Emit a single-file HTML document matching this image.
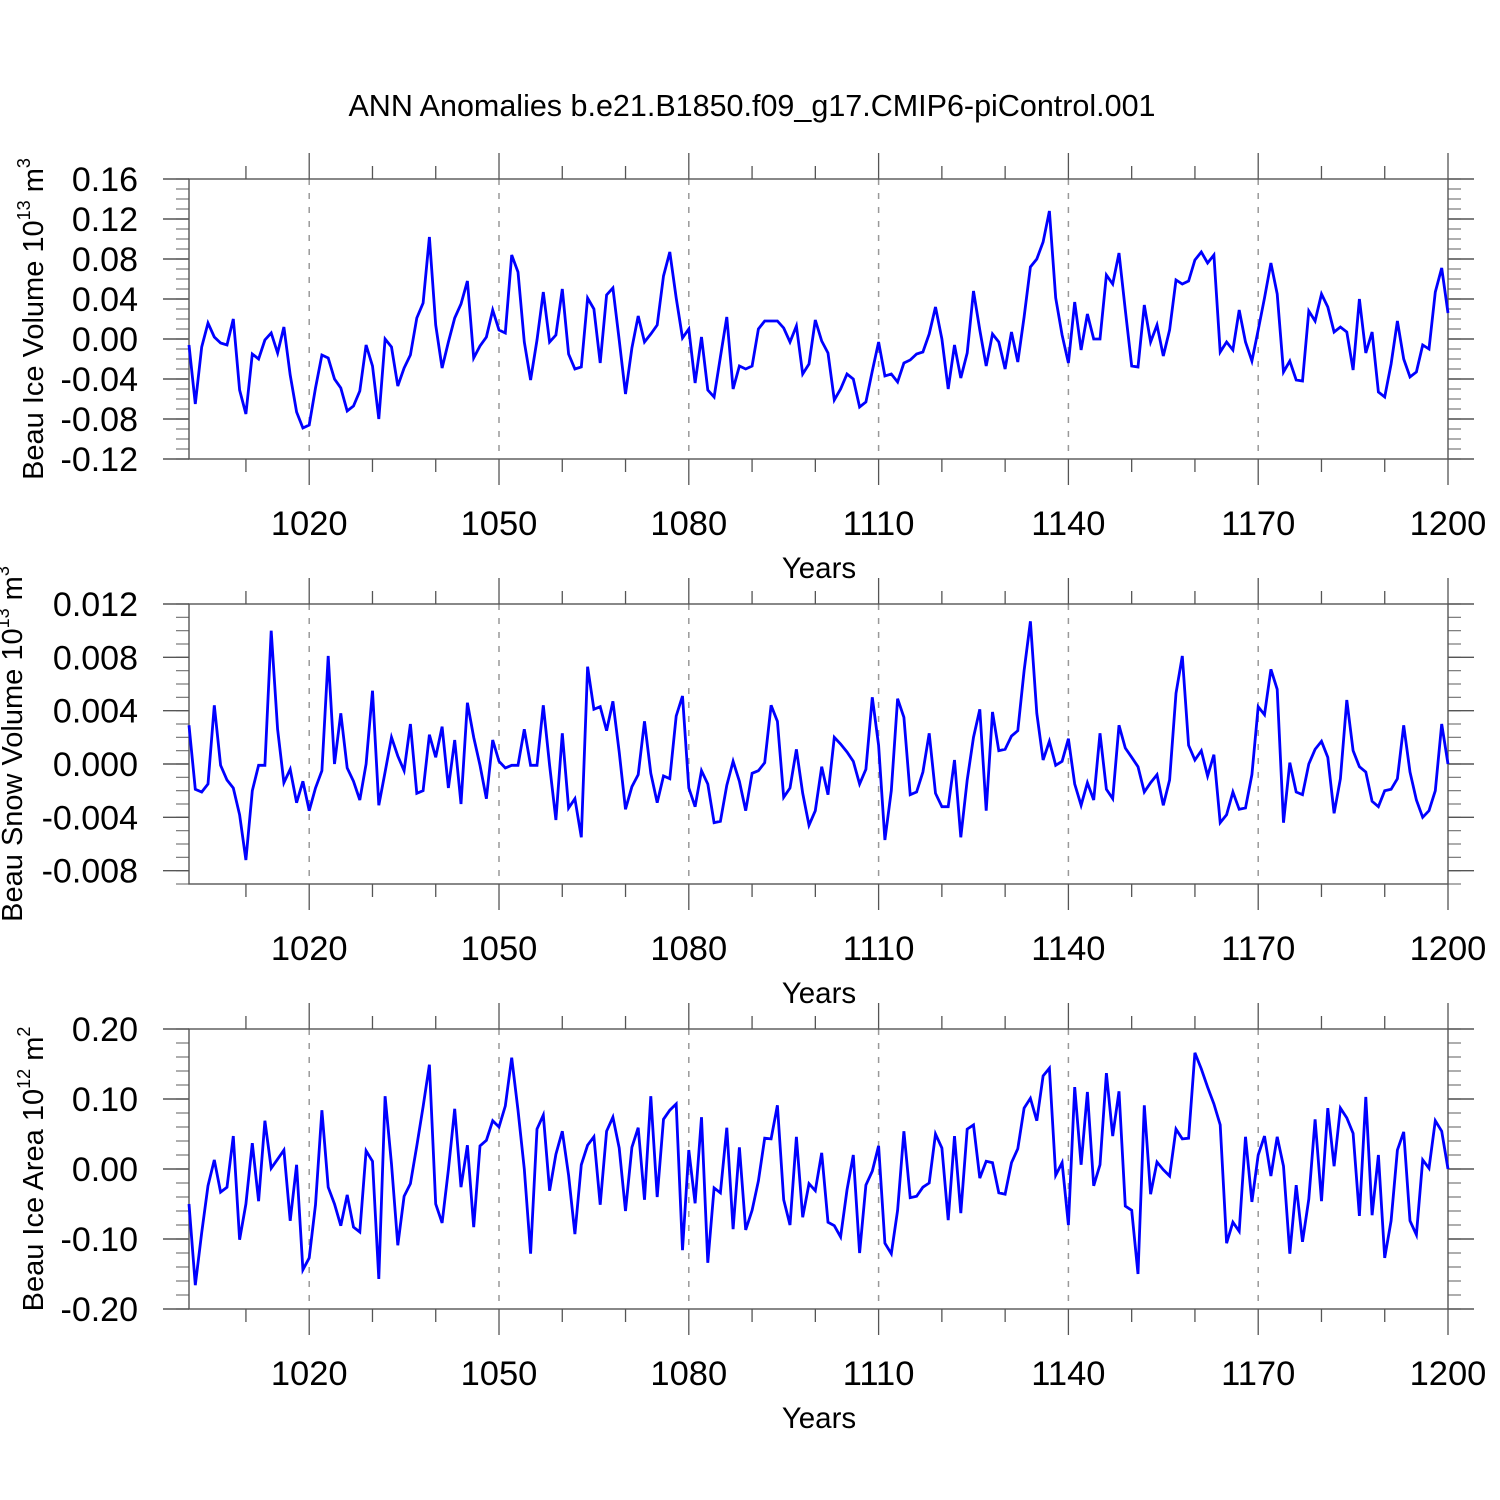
<!DOCTYPE html>
<html><head><meta charset="utf-8"><style>
html,body{margin:0;padding:0;background:#fff;}
svg{display:block;font-family:"Liberation Sans",sans-serif;}
</style></head><body>
<svg id="chart" width="1500" height="1500" viewBox="0 0 1500 1500">
<text x="752" y="116" text-anchor="middle" font-size="30.5">ANN Anomalies b.e21.B1850.f09_g17.CMIP6-piControl.001</text>
</svg>
<script>
const startYear = 1001;
const xTicks = [1020, 1050, 1080, 1110, 1140, 1170, 1200];
const iceVolume = [-0.006,-0.065,-0.008,0.016,0.002,-0.004,-0.006,0.020,-0.051,-0.075,
-0.015,-0.020,-0.001,0.006,-0.014,0.012,-0.036,-0.073,-0.089,-0.086,
-0.049,-0.016,-0.019,-0.040,-0.049,-0.072,-0.067,-0.052,-0.006,-0.027,
-0.080,0.000,-0.008,-0.047,-0.029,-0.016,0.021,0.036,0.102,0.014,
-0.029,-0.003,0.021,0.035,0.058,-0.019,-0.007,0.002,0.029,0.009,
0.006,0.084,0.067,-0.003,-0.041,-0.001,0.047,-0.003,0.004,0.050,
-0.015,-0.030,-0.028,0.041,0.030,-0.024,0.044,0.051,-0.001,-0.055,
-0.009,0.023,-0.003,0.005,0.014,0.063,0.087,0.041,0.001,0.010,
-0.044,0.002,-0.051,-0.058,-0.018,0.022,-0.050,-0.027,-0.030,-0.027,
0.010,0.018,0.018,0.018,0.011,-0.003,0.013,-0.035,-0.025,0.019,
-0.002,-0.014,-0.061,-0.050,-0.035,-0.040,-0.068,-0.063,-0.032,-0.003,
-0.037,-0.035,-0.043,-0.024,-0.021,-0.015,-0.013,0.005,0.032,0.000,
-0.050,-0.006,-0.039,-0.014,0.048,0.009,-0.027,0.005,-0.003,-0.030,
0.007,-0.023,0.022,0.072,0.080,0.097,0.128,0.041,0.004,-0.024,
0.037,-0.011,0.025,0.000,0.000,0.064,0.055,0.086,0.029,-0.027,
-0.028,0.034,-0.003,0.014,-0.017,0.009,0.059,0.055,0.058,0.079,
0.087,0.076,0.084,-0.013,-0.003,-0.011,0.029,-0.003,-0.022,0.009,
0.041,0.076,0.045,-0.033,-0.022,-0.041,-0.042,0.028,0.018,0.045,
0.032,0.007,0.012,0.007,-0.031,0.040,-0.014,0.007,-0.053,-0.058,
-0.025,0.018,-0.020,-0.038,-0.033,-0.006,-0.010,0.047,0.071,0.026];
const snowVolume = [0.0029,-0.0019,-0.0021,-0.0015,0.0044,-0.0001,-0.0012,-0.0018,-0.0038,-0.0072,
-0.0020,-0.0001,-0.0001,0.0100,0.0026,-0.0014,-0.0004,-0.0029,-0.0013,-0.0035,
-0.0018,-0.0005,0.0081,0.0000,0.0038,-0.0003,-0.0013,-0.0027,0.0000,0.0055,
-0.0031,-0.0006,0.0020,0.0006,-0.0005,0.0030,-0.0022,-0.0020,0.0022,0.0005,
0.0028,-0.0018,0.0018,-0.0030,0.0046,0.0020,-0.0001,-0.0026,0.0018,0.0002,
-0.0003,-0.0001,-0.0001,0.0026,-0.0001,-0.0001,0.0044,-0.0001,-0.0042,0.0023,
-0.0033,-0.0026,-0.0055,0.0073,0.0041,0.0043,0.0025,0.0047,0.0009,-0.0034,
-0.0017,-0.0008,0.0032,-0.0007,-0.0029,-0.0009,-0.0011,0.0036,0.0051,-0.0018,
-0.0032,-0.0005,-0.0015,-0.0044,-0.0043,-0.0016,0.0002,-0.0013,-0.0035,-0.0007,
-0.0005,0.0001,0.0044,0.0032,-0.0025,-0.0018,0.0011,-0.0022,-0.0046,-0.0035,
-0.0002,-0.0023,0.0020,0.0015,0.0009,0.0002,-0.0015,-0.0004,0.0050,0.0014,
-0.0057,-0.0020,0.0049,0.0035,-0.0023,-0.0021,-0.0006,0.0023,-0.0022,-0.0032,
-0.0032,0.0003,-0.0055,-0.0012,0.0020,0.0041,-0.0035,0.0039,0.0010,0.0011,
0.0021,0.0025,0.0070,0.0107,0.0038,0.0003,0.0017,-0.0001,0.0002,0.0019,
-0.0015,-0.0031,-0.0014,-0.0027,0.0023,-0.0019,-0.0026,0.0029,0.0012,0.0005,
-0.0002,-0.0021,-0.0014,-0.0008,-0.0031,-0.0012,0.0053,0.0081,0.0014,0.0003,
0.0010,-0.0009,0.0007,-0.0044,-0.0038,-0.0021,-0.0034,-0.0033,-0.0008,0.0043,
0.0037,0.0071,0.0056,-0.0044,0.0001,-0.0021,-0.0023,0.0000,0.0011,0.0017,
0.0005,-0.0037,-0.0011,0.0048,0.0010,-0.0002,-0.0006,-0.0028,-0.0032,-0.0020,
-0.0019,-0.0011,0.0029,-0.0006,-0.0027,-0.0040,-0.0035,-0.0020,0.0030,0.0000];
const iceArea = [-0.050,-0.166,-0.091,-0.024,0.013,-0.033,-0.026,0.047,-0.101,-0.050,
0.037,-0.046,0.069,0.001,0.014,0.027,-0.074,0.006,-0.144,-0.127,
-0.051,0.084,-0.026,-0.050,-0.081,-0.037,-0.083,-0.090,0.026,0.011,
-0.157,0.104,0.007,-0.109,-0.039,-0.021,0.033,0.089,0.149,-0.050,
-0.077,-0.001,0.086,-0.026,0.034,-0.083,0.033,0.041,0.069,0.060,
0.090,0.159,0.084,0.000,-0.121,0.057,0.077,-0.031,0.021,0.054,
-0.009,-0.093,0.006,0.034,0.046,-0.051,0.054,0.074,0.030,-0.060,
0.031,0.059,-0.044,0.104,-0.040,0.071,0.084,0.093,-0.116,0.027,
-0.049,0.074,-0.134,-0.027,-0.034,0.059,-0.086,0.031,-0.087,-0.059,
-0.017,0.044,0.043,0.091,-0.044,-0.080,0.046,-0.069,-0.021,-0.031,
0.023,-0.076,-0.081,-0.097,-0.030,0.020,-0.120,-0.023,-0.003,0.033,
-0.106,-0.121,-0.059,0.054,-0.041,-0.039,-0.026,-0.020,0.050,0.030,
-0.073,0.047,-0.063,0.057,0.063,-0.013,0.011,0.009,-0.034,-0.036,
0.009,0.029,0.087,0.101,0.069,0.133,0.144,-0.009,0.009,-0.080,
0.117,0.006,0.110,-0.024,0.006,0.137,0.047,0.111,-0.053,-0.059,
-0.150,0.091,-0.036,0.010,-0.001,-0.010,0.057,0.043,0.044,0.166,
0.143,0.117,0.093,0.063,-0.106,-0.076,-0.089,0.046,-0.047,0.020,
0.047,-0.010,0.046,0.004,-0.121,-0.023,-0.104,-0.043,0.071,-0.046,
0.087,0.004,0.087,0.073,0.051,-0.067,0.103,-0.066,0.020,-0.127,
-0.074,0.027,0.053,-0.074,-0.094,0.013,0.001,0.069,0.054,0.000];
const panel1Ticks = ["0.16","0.12","0.08","0.04","0.00","-0.04","-0.08","-0.12"];
const panel2Ticks = ["0.012","0.008","0.004","0.000","-0.004","-0.008"];
const panel3Ticks = ["0.20","0.10","0.00","-0.10","-0.20"];

const NS = "http://www.w3.org/2000/svg";
const svg = document.getElementById('chart');
const X0 = 189, X1 = 1448;
function xScale(yr){ return X0 + (yr - startYear) / (1200 - startYear) * (X1 - X0); }
function mk(tag, attrs, parent){
  const e = document.createElementNS(NS, tag);
  for (const k in attrs) e.setAttribute(k, attrs[k]);
  (parent || svg).appendChild(e);
  return e;
}
function panel(opt){
  const g = mk('g', {});
  
  
  const top = opt.top, bot = opt.top + 280;
  const yScale = v => top + (opt.ymax - v) / (opt.ymax - opt.ymin) * 280;
  xTicks.forEach(t => {
    if (t === 1200) return;
    const l = mk('line', {x1: xScale(t), x2: xScale(t), y1: top, y2: bot, stroke: '#999', 'stroke-width': 1.5, 'stroke-dasharray': '6,8'}, g);
    
    
  });
  for (let t = 1010; t <= 1200; t += 10) {
    const major = xTicks.includes(t);
    const len = major ? 26 : 13;
    const x = xScale(t);
    mk('line', {x1: x, x2: x, y1: top, y2: top - len, stroke: '#555', 'stroke-width': 1.3}, g);
    mk('line', {x1: x, x2: x, y1: bot, y2: bot + len, stroke: '#555', 'stroke-width': 1.3}, g);
  }
  xTicks.forEach(t => {
    const tx = mk('text', {x: xScale(t), y: bot + 76, 'text-anchor': 'middle', 'font-size': 34.5}, g);
    tx.textContent = String(t);
    
    
  });
  const xt = mk('text', {x: 819, y: bot + 119, 'text-anchor': 'middle', 'font-size': 29.5}, g);
  xt.textContent = 'Years';
  
  
  const nMinor = Math.round((opt.ymax - opt.ymin) / opt.minor);
  for (let i = 0; i <= nMinor; i++) {
    const v = opt.ymax - i * opt.minor;
    const y = yScale(v);
    mk('line', {x1: X0, x2: X0 - 13, y1: y, y2: y, stroke: '#777', 'stroke-width': 1.2}, g);
    mk('line', {x1: X1, x2: X1 + 13, y1: y, y2: y, stroke: '#777', 'stroke-width': 1.2}, g);
  }
  opt.labels.forEach(lab => {
    const y = yScale(parseFloat(lab));
    mk('line', {x1: X0, x2: X0 - 26, y1: y, y2: y, stroke: '#555', 'stroke-width': 1.4}, g);
    mk('line', {x1: X1, x2: X1 + 26, y1: y, y2: y, stroke: '#555', 'stroke-width': 1.4}, g);
    const tx = mk('text', {x: 138, y: y + 12, 'text-anchor': 'end', 'font-size': 34}, g);
    tx.textContent = lab;
    
    
  });
  const fr = mk('rect', {x: X0, y: top, width: X1 - X0, height: 280, fill: 'none', stroke: '#555', 'stroke-width': 1.4}, g);
  
  
  const pts = opt.data.map((v, i) => xScale(startYear + i).toFixed(1) + ',' + yScale(v).toFixed(1)).join(' ');
  const pl = mk('polyline', {points: pts, fill: 'none', stroke: '#0000ff', 'stroke-width': 2.8, 'stroke-linejoin': 'miter'}, g);
  
  
  const yt = mk('text', {x: 0, y: 0, 'text-anchor': 'middle', 'font-size': 29, transform: 'translate(' + opt.titleX + ',' + (top + 140) + ') rotate(-90)'}, g);
  yt.innerHTML = opt.title + ' 10<tspan font-size="18" dy="-13">' + opt.exp + '</tspan><tspan dy="13"> m</tspan><tspan font-size="18" dy="-13">' + opt.unitExp + '</tspan>';
  
  
}
panel({name: 'ice-volume-panel', top: 179, ymax: 0.16, ymin: -0.12, minor: 0.01, labels: panel1Ticks, data: iceVolume, title: 'Beau Ice Volume', exp: '13', unitExp: '3', titleX: 43});
panel({name: 'snow-volume-panel', top: 604, ymax: 0.012, ymin: -0.009, minor: 0.001, labels: panel2Ticks, data: snowVolume, title: 'Beau Snow Volume', exp: '13', unitExp: '3', titleX: 22});
panel({name: 'ice-area-panel', top: 1029, ymax: 0.20, ymin: -0.20, minor: 0.02, labels: panel3Ticks, data: iceArea, title: 'Beau Ice Area', exp: '12', unitExp: '2', titleX: 43});
</script>
</body></html>
